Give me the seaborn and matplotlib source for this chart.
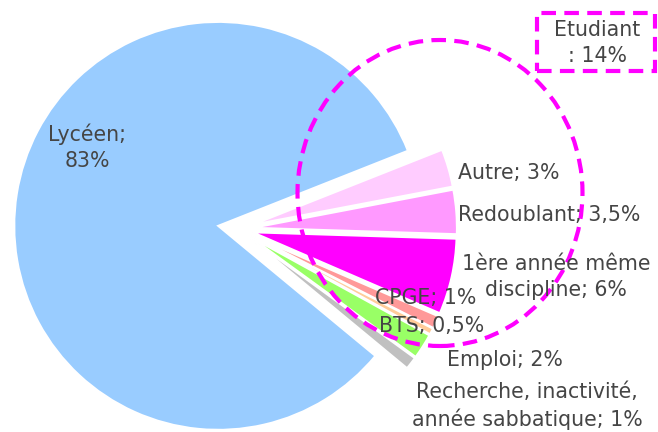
import matplotlib
matplotlib.use("Agg")
import matplotlib.pyplot as plt
import seaborn as sns
from matplotlib.patches import Ellipse, Rectangle

# ---- data ----
categories = ["Lycéen", "Autre", "Redoublant", "1ère année même\ndiscipline",
              "CPGE", "BTS", "Emploi", "Recherche, inactivité,\nannée sabbatique"]
values = [83, 3, 3.5, 6, 1, 0.5, 2, 1]
value_labels = ["83%", "3%", "3,5%", "6%", "1%", "0,5%", "2%", "1%"]
slice_colors = ["#99CCFF", "#FFCCFF", "#FF99FF", "#FF00FF",
                "#FF9999", "#FFCC99", "#99FF66", "#C0C0C0"]
group_label = "Etudiant\n: 14%"

sns.set_theme(style="white")
plt.rcParams['font.family'] = ['DejaVu Sans']

W, H = 658, 432
fig = plt.figure(figsize=(W / 100, H / 100), dpi=100)
ax = fig.add_axes([0, 0, 1, 1])

palette = sns.color_palette(slice_colors)
R = 204
explode = [20] + [15] * (len(values) - 1)   # pie offsets are in data units (pixels here)
wedges, _ = ax.pie(values, colors=palette, startangle=-39.6, counterclock=False,
                   center=(238, H - 229), radius=R, explode=explode,
                   wedgeprops=dict(edgecolor="white", linewidth=1.5))

ax.set_xlim(0, W)
ax.set_ylim(0, H)
ax.set_aspect("equal")
ax.axis("off")

FS = 14.8
TXT = "#454545"
# labels (positions in pixels from top-left)
label_pos = [(87, 147), (509, 173), (549, 215), (556, 277),
             (426, 298), (432, 326), (505, 360), (527, 406)]
for cat, vl, (x, y) in zip(categories, value_labels, label_pos):
    if cat == "Lycéen":
        txt = f"{cat};\n{vl}"
    else:
        txt = f"{cat}; {vl}"
    ax.text(x, H - y, txt, ha="center", va="center", fontsize=FS,
            color=TXT, linespacing=1.4, zorder=5)

# dashed ellipse around the student group
ell = Ellipse((440, H - 193), width=285, height=306, fill=False,
              edgecolor="#FF00FF", linewidth=3, linestyle=(0, (3.5, 2)), zorder=4)
ax.add_patch(ell)

# dashed box with group label
rect = Rectangle((537, H - 71), 118, 58, fill=False, edgecolor="#FF00FF",
                 linewidth=3, linestyle=(0, (3.5, 2)), zorder=4)
ax.add_patch(rect)
ax.text(597, H - 43, group_label, ha="center", va="center", fontsize=FS,
        color=TXT, linespacing=1.4, zorder=5)

fig.savefig("out.png", dpi=100)
